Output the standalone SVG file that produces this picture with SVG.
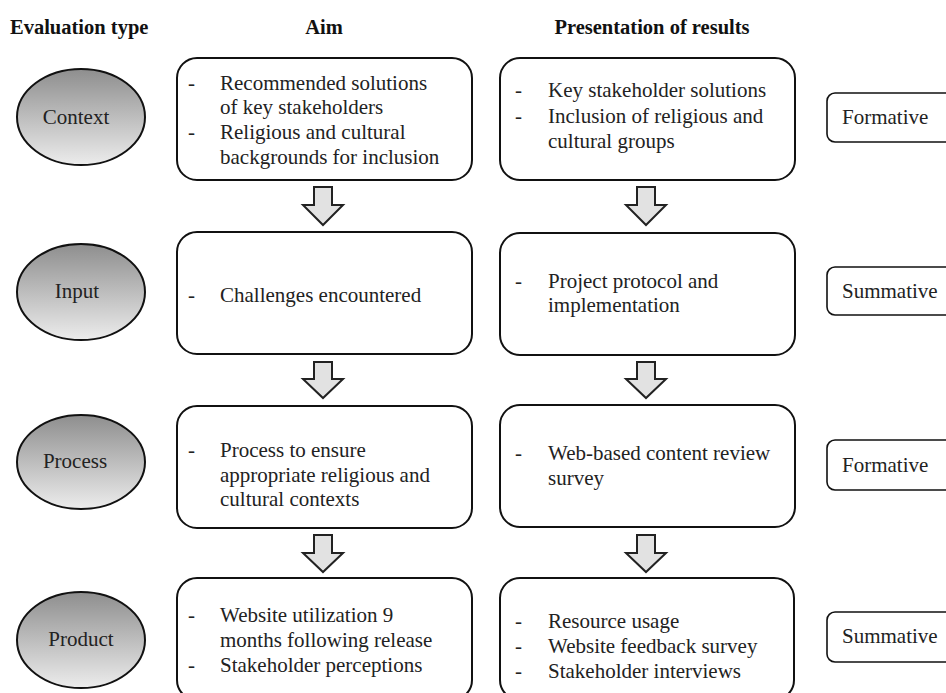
<svg xmlns="http://www.w3.org/2000/svg" width="946" height="693" viewBox="0 0 946 693">
<defs>
<linearGradient id="eg" x1="0" y1="0" x2="0" y2="1">
<stop offset="0" stop-color="#8e8e8e"/>
<stop offset="1" stop-color="#ececec"/>
</linearGradient>
<style>
.hd{font-family:"Liberation Serif","Times New Roman",serif;font-weight:bold;font-size:20.5px;fill:#111}
.t{font-family:"Liberation Serif","Times New Roman",serif;font-size:21px;fill:#222}
.el{fill:url(#eg);stroke:#111;stroke-width:2}
.bx{fill:#fff;stroke:#111;stroke-width:2}
.sb{fill:#fff;stroke:#111;stroke-width:1.6}
.ar{fill:#e2e2e2;stroke:#222;stroke-width:2;stroke-linejoin:miter}
</style>
</defs>
<rect width="946" height="693" fill="#fff"/>
<g id="headers">
<text class="hd" x="10" y="34">Evaluation type</text>
<text class="hd" x="324" y="34" text-anchor="middle">Aim</text>
<text class="hd" x="652" y="34" text-anchor="middle">Presentation of results</text>
</g>
<g id="connectors">
<path class="ar" d="M314,187 H332 V205 H343 L323,225 L303,205 H314 Z"/>
<path class="ar" d="M637,187 H655 V205 H666 L646,225 L626,205 H637 Z"/>
<path class="ar" d="M314,362 H332 V379 H343 L323,398 L303,379 H314 Z"/>
<path class="ar" d="M637,362 H655 V379 H666 L646,398 L626,379 H637 Z"/>
<path class="ar" d="M314,535 H332 V553 H343 L323,572 L303,553 H314 Z"/>
<path class="ar" d="M637,535 H655 V553 H666 L646,572 L626,553 H637 Z"/>
</g>
<g id="context">
<ellipse class="el" cx="81" cy="117" rx="64" ry="48"/>
<text class="t" x="76" y="124" text-anchor="middle">Context</text>
</g>
<g id="aim-context">
<rect class="bx" x="177" y="58" width="295" height="122" rx="20"/>
<text class="t" x="188" y="90">-</text><text class="t" x="220" y="90">Recommended solutions</text>
<text class="t" x="220" y="114">of key stakeholders</text>
<text class="t" x="188" y="139">-</text><text class="t" x="220" y="139">Religious and cultural</text>
<text class="t" x="220" y="164">backgrounds for inclusion</text>
</g>
<g id="pres-context">
<rect class="bx" x="500" y="58" width="295" height="122" rx="20"/>
<text class="t" x="515" y="97">-</text><text class="t" x="548" y="97">Key stakeholder solutions</text>
<text class="t" x="515" y="123">-</text><text class="t" x="548" y="123">Inclusion of religious and</text>
<text class="t" x="548" y="148">cultural groups</text>
</g>
<g id="formative-1">
<rect class="sb" x="827" y="93" width="140" height="49" rx="8"/>
<text class="t" x="842" y="124">Formative</text>
</g>
<g id="input">
<ellipse class="el" cx="81" cy="292" rx="64" ry="48"/>
<text class="t" x="77" y="298" text-anchor="middle">Input</text>
</g>
<g id="aim-input">
<rect class="bx" x="177" y="232" width="295" height="122" rx="20"/>
<text class="t" x="188" y="302">-</text><text class="t" x="220" y="302">Challenges encountered</text>
</g>
<g id="pres-input">
<rect class="bx" x="500" y="233" width="295" height="122" rx="20"/>
<text class="t" x="515" y="288">-</text><text class="t" x="548" y="288">Project protocol and</text>
<text class="t" x="548" y="312">implementation</text>
</g>
<g id="summative-1">
<rect class="sb" x="827" y="267" width="140" height="48" rx="8"/>
<text class="t" x="842" y="298">Summative</text>
</g>
<g id="process">
<ellipse class="el" cx="81" cy="462" rx="64" ry="47"/>
<text class="t" x="75" y="468" text-anchor="middle">Process</text>
</g>
<g id="aim-process">
<rect class="bx" x="177" y="406" width="295" height="122" rx="20"/>
<text class="t" x="188" y="457">-</text><text class="t" x="220" y="457">Process to ensure</text>
<text class="t" x="220" y="482">appropriate religious and</text>
<text class="t" x="220" y="506">cultural contexts</text>
</g>
<g id="pres-process">
<rect class="bx" x="500" y="405" width="295" height="122" rx="20"/>
<text class="t" x="515" y="460">-</text><text class="t" x="548" y="460">Web-based content review</text>
<text class="t" x="548" y="485">survey</text>
</g>
<g id="formative-2">
<rect class="sb" x="827" y="440" width="140" height="50" rx="8"/>
<text class="t" x="842" y="472">Formative</text>
</g>
<g id="product">
<ellipse class="el" cx="81" cy="640" rx="64" ry="48"/>
<text class="t" x="81" y="646" text-anchor="middle">Product</text>
</g>
<g id="aim-product">
<rect class="bx" x="177" y="578" width="295" height="122" rx="20"/>
<text class="t" x="188" y="622">-</text><text class="t" x="220" y="622">Website utilization 9</text>
<text class="t" x="220" y="647">months following release</text>
<text class="t" x="188" y="672">-</text><text class="t" x="220" y="672">Stakeholder perceptions</text>
</g>
<g id="pres-product">
<rect class="bx" x="500" y="578" width="294" height="122" rx="20"/>
<text class="t" x="515" y="628">-</text><text class="t" x="548" y="628">Resource usage</text>
<text class="t" x="515" y="653">-</text><text class="t" x="548" y="653">Website feedback survey</text>
<text class="t" x="515" y="678">-</text><text class="t" x="548" y="678">Stakeholder interviews</text>
</g>
<g id="summative-2">
<rect class="sb" x="827" y="612" width="140" height="50" rx="8"/>
<text class="t" x="842" y="643">Summative</text>
</g>
</svg>
